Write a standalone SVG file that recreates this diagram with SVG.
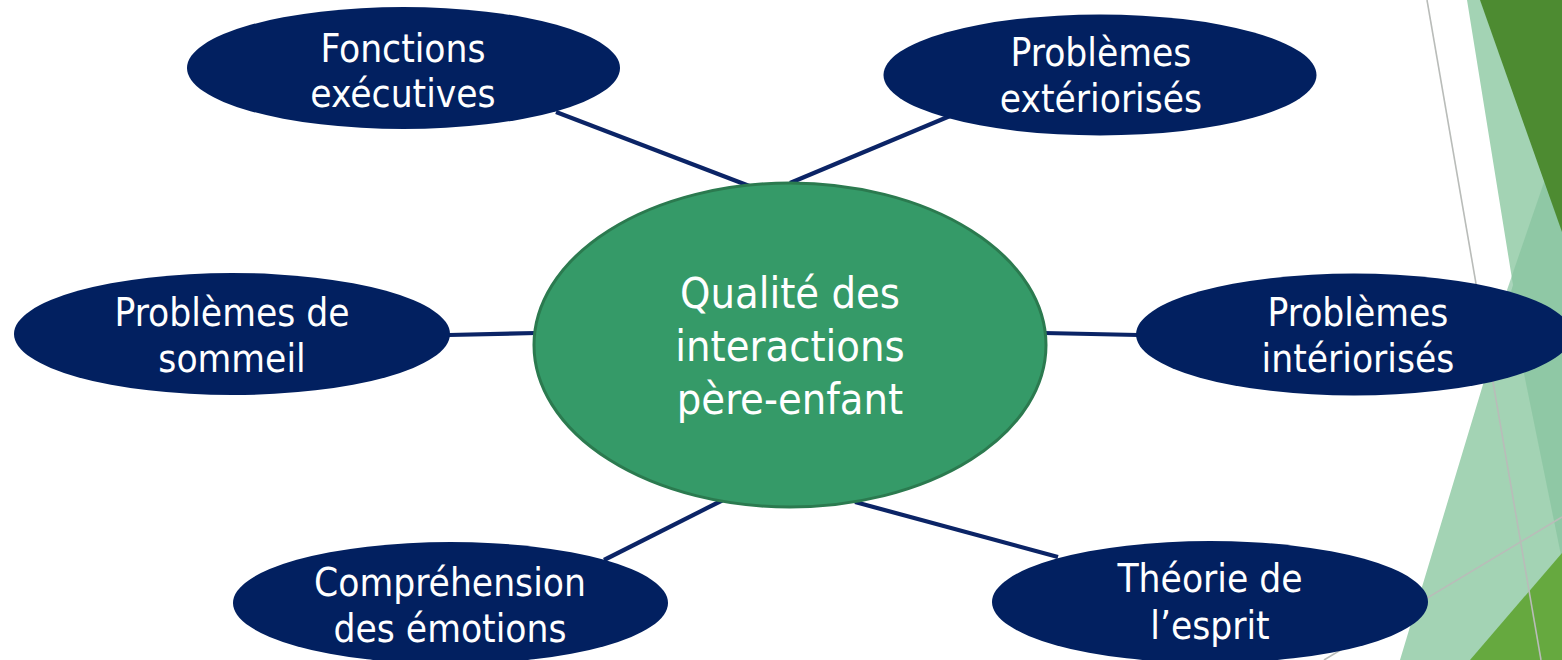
<svg xmlns="http://www.w3.org/2000/svg" width="1562" height="660" viewBox="0 0 1562 660">
<style>
.node{fill:#022060;}
.lbl{font-family:"DejaVu Sans Condensed","DejaVu Sans",sans-serif;font-stretch:condensed;font-size:38.5px;fill:#ffffff;text-anchor:middle;}
.clbl{font-family:"DejaVu Sans Condensed","DejaVu Sans",sans-serif;font-stretch:condensed;font-size:43px;fill:#ffffff;text-anchor:middle;}
.conn{stroke:#0b2466;stroke-width:4.2;fill:none;}
.deco-line{stroke:#b9bcb9;stroke-width:1.6;fill:none;}
</style>
<rect width="1562" height="660" fill="#ffffff"/>
<g id="decoration">
<polygon points="1467,0 1562,0 1562,660 1400,660 1513,285" fill="#a3d3b4"/>
<polygon points="1562,130 1507,290 1562,560" fill="#86c39e" opacity="0.7"/>
<polygon points="1480,0 1562,0 1562,232" fill="#4d8b31"/>
<polygon points="1470,660 1562,553 1562,660" fill="#66a93f"/>
<line class="deco-line" x1="1427" y1="0" x2="1541" y2="660"/>
<line class="deco-line" x1="1562" y1="517" x2="1324" y2="660"/>
</g>
<g id="connectors">
<line class="conn" x1="556" y1="112" x2="752" y2="187"/>
<line class="conn" x1="950" y1="116" x2="790" y2="183"/>
<line class="conn" x1="449" y1="335" x2="536" y2="333"/>
<line class="conn" x1="1044" y1="333" x2="1138" y2="335"/>
<line class="conn" x1="604" y1="560" x2="723" y2="500"/>
<line class="conn" x1="855" y1="502" x2="1058" y2="557"/>
</g>
<g id="center">
<ellipse cx="790" cy="345" rx="256" ry="162" fill="#359a68" stroke="#2b7a4f" stroke-width="3"/>
<text class="clbl" x="790" y="308">Qualité des</text>
<text class="clbl" x="790" y="361">interactions</text>
<text class="clbl" x="790" y="414">père-enfant</text>
</g>
<g id="fonctions">
<ellipse class="node" cx="403.5" cy="68" rx="216.5" ry="61"/>
<text class="lbl" x="403" y="62">Fonctions</text>
<text class="lbl" x="403" y="107">exécutives</text>
</g>
<g id="exteriorises">
<ellipse class="node" cx="1100" cy="75" rx="216.5" ry="60.5"/>
<text class="lbl" x="1101" y="66">Problèmes</text>
<text class="lbl" x="1101" y="112">extériorisés</text>
</g>
<g id="sommeil">
<ellipse class="node" cx="232" cy="334" rx="218" ry="61"/>
<text class="lbl" x="232" y="326">Problèmes de</text>
<text class="lbl" x="232" y="372">sommeil</text>
</g>
<g id="interiorises">
<ellipse class="node" cx="1354" cy="334.5" rx="218" ry="61"/>
<text class="lbl" x="1358" y="326">Problèmes</text>
<text class="lbl" x="1358" y="372">intériorisés</text>
</g>
<g id="comprehension">
<ellipse class="node" cx="450.5" cy="603" rx="217.5" ry="61"/>
<text class="lbl" x="450" y="596">Compréhension</text>
<text class="lbl" x="450" y="642">des émotions</text>
</g>
<g id="theorie">
<ellipse class="node" cx="1210" cy="602" rx="218" ry="61"/>
<text class="lbl" x="1210" y="592">Théorie de</text>
<text class="lbl" x="1210" y="639">l’esprit</text>
</g>
</svg>
